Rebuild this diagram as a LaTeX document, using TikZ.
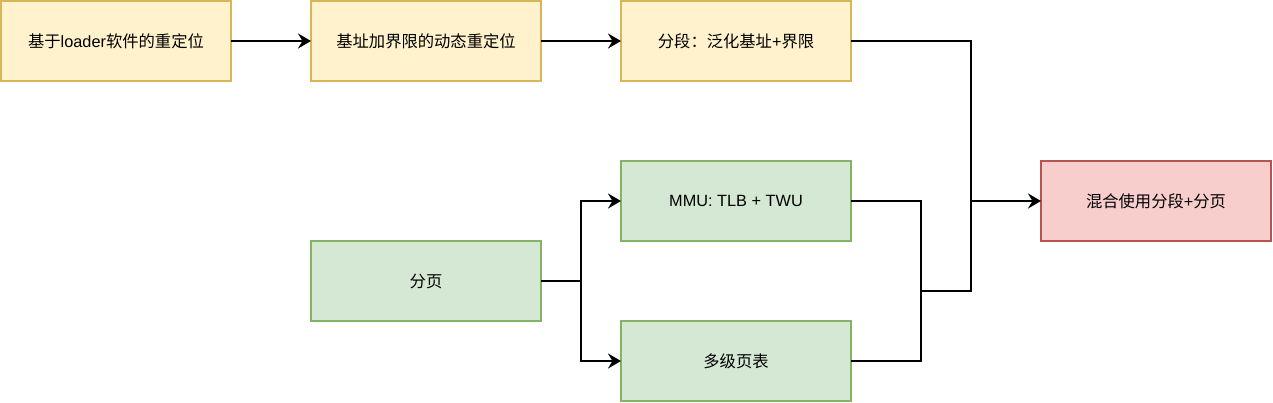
\documentclass[tikz,border=0pt]{standalone}
\usepackage{fontspec}
\setmainfont{Liberation Sans}
\newfontfamily\cjk{Noto Sans CJK SC}
\usetikzlibrary{arrows.meta}

\begin{document}
\begin{tikzpicture}  [
    x=1pt, y=-1pt,
    box/.style={draw, line width=2.6, minimum width=230, minimum height=80, inner sep=0, outer sep=0, font=\fontsize{16.3}{19}\selectfont},
    yellowbox/.style={box, fill=yfill, draw=ydraw},
    greenbox/.style={box, fill=gfill, draw=gdraw},
    redbox/.style={box, fill=rfill, draw=rdraw},
    link/.style={line width=2.6, black},
    arrow/.style={link, -{Stealth[length=13, width=15, inset=4.5]}},
  ]

\definecolor{yfill}{RGB}{255,242,204}
\definecolor{ydraw}{RGB}{214,182,86}
\definecolor{gfill}{RGB}{213,232,212}
\definecolor{gdraw}{RGB}{130,179,102}
\definecolor{rfill}{RGB}{248,206,204}
\definecolor{rdraw}{RGB}{184,84,80}

\useasboundingbox (0,0) rectangle (1273,403);

\node[yellowbox] (loader) at (116,41) {{\cjk 基于}loader{\cjk 软件的重定位}};
\node[yellowbox] (base) at (426,41) {\cjk 基址加界限的动态重定位};
\node[yellowbox] (seg) at (736,41) {{\cjk 分段：泛化基址}+{\cjk 界限}};
\node[greenbox] (mmu) at (736,201) {MMU: TLB + TWU};
\node[greenbox] (page) at (426,281) {\cjk 分页};
\node[greenbox] (multi) at (736,361) {\cjk 多级页表};
\node[redbox] (mix) at (1156,201) {{\cjk 混合使用分段}+{\cjk 分页}};

\coordinate (fork) at (581,281);
\coordinate (join) at (921,291);
\coordinate (merge) at (971,291);

\draw[arrow] (loader) -- (base);
\draw[arrow] (base) -- (seg);
\draw[arrow] (seg.east) -| (merge |- mix.west) -- (mix.west);

%\draw[arrow] (page.east) -- (fork) |- (mmu.west);
\foreach \t in {mmu, multi}
    \draw[arrow] (page.east) -- (fork) |- (\t.west);

\draw[link] (mmu.east) -| (join);
\draw[link] (multi.east) -| (join);
\draw[link] (join) -- (merge) -- (merge |- mix.west);
\end{tikzpicture}
\end{document}
